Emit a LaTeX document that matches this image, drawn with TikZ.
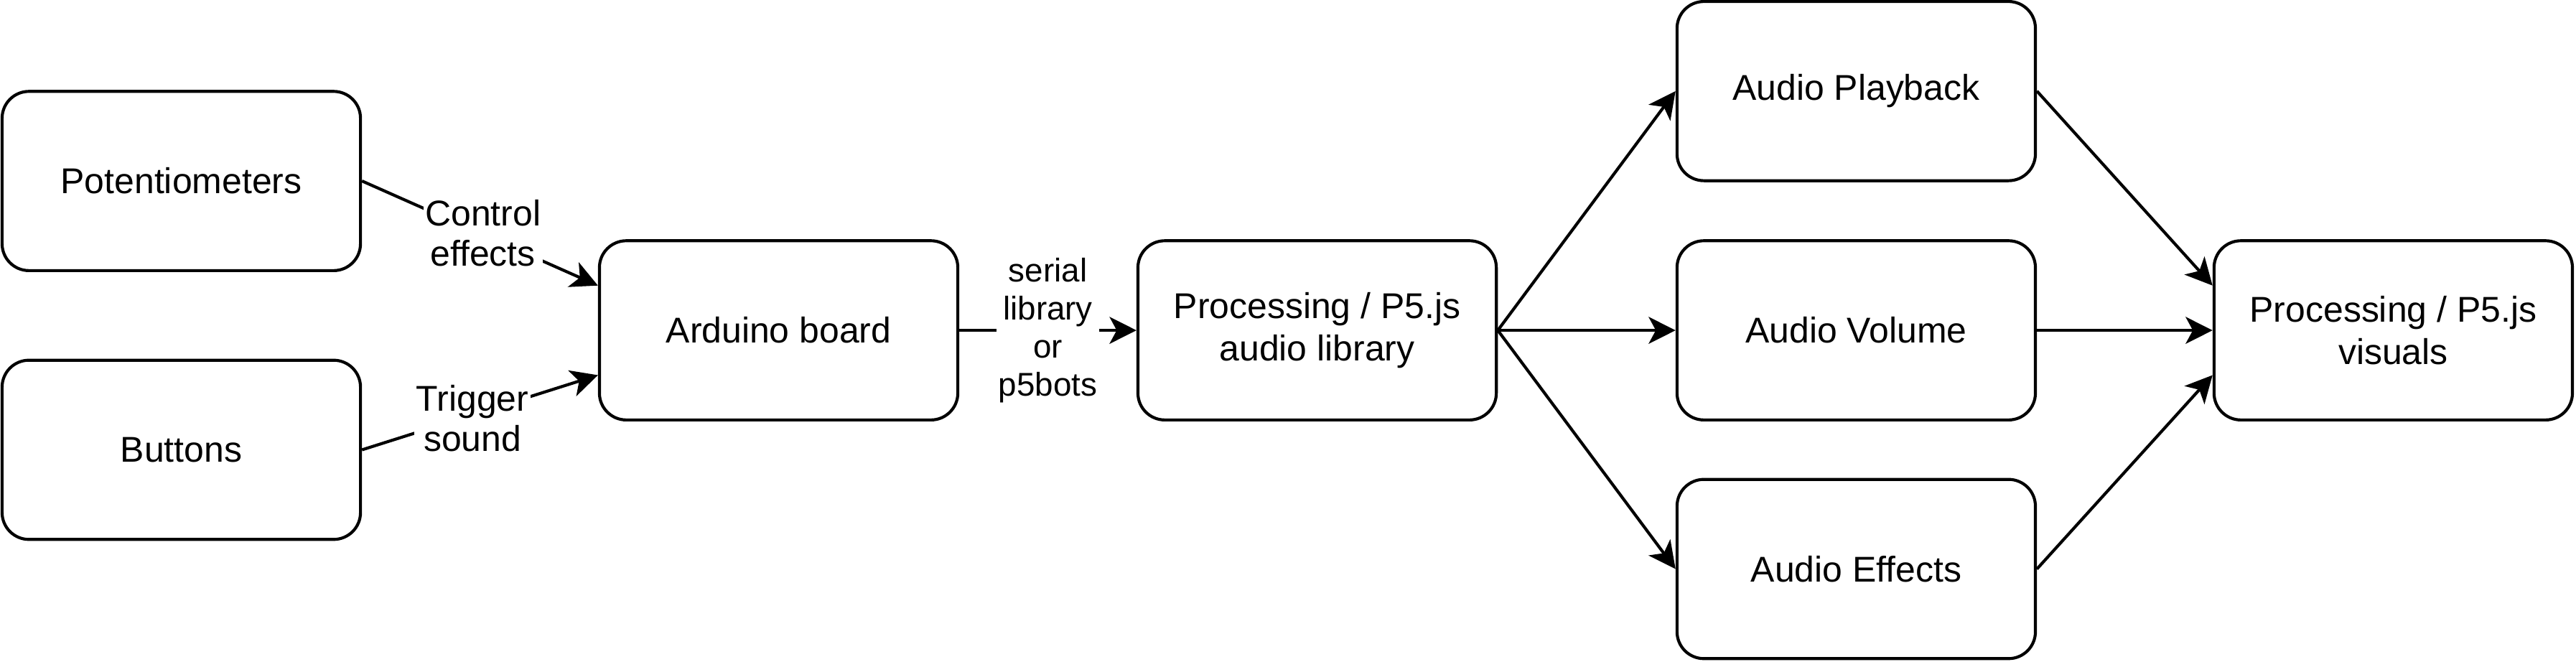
\documentclass[tikz,border=0pt]{standalone}
\usepackage{fontspec}
\setmainfont{Liberation Sans}
\usetikzlibrary{arrows.meta}
\tikzset{
  box/.style={draw, line width=1pt, rounded corners=9pt, minimum width=120pt, minimum height=60pt,
    align=center, inner sep=0pt, font=\fontsize{12}{14.2}\selectfont},
  arr/.style={line width=1pt, -{Stealth[length=9pt,width=9pt,inset=2.4pt]}},
  lbl/.style={fill=white, inner xsep=0.6pt, inner ysep=0.6pt, align=center, font=\fontsize{12}{13.5}\selectfont},
  lblsmall/.style={lbl, font=\fontsize{11}{12.7}\selectfont}
}
\begin{document}
\begin{tikzpicture}[x=1pt,y=-1pt]
\useasboundingbox (0,0) rectangle (862.5,221.4);
\node[box] (pot) at (60.7,60.6) {Potentiometers};
\node[box] (btn) at (60.7,150.6) {Buttons};
\node[box] (ard) at (260.7,110.6) {Arduino board};
\node[box] (proc) at (441,110.6) {Processing / P5.js\\audio library};
\node[box] (play) at (621.5,30.5) {Audio Playback};
\node[box] (vol) at (621.5,110.6) {Audio Volume};
\node[box] (eff) at (621.5,190.5) {Audio Effects};
\node[box] (vis) at (801.3,110.6) {Processing / P5.js\\visuals};

\draw[arr] (pot.east) -- node[lbl,midway,xshift=1pt] {Control\\effects} ([yshift=15pt]ard.west);
\draw[arr] (btn.east) -- node[lbl,midway,xshift=-2.5pt,yshift=-2pt] {Trigger\\sound} ([yshift=-15pt]ard.west);
\draw[arr] (ard.east) -- node[lblsmall,midway] {serial\\library\\or\\p5bots} (proc.west);
\draw[arr] (proc.east) -- (play.west);
\draw[arr] (proc.east) -- (vol.west);
\draw[arr] (proc.east) -- (eff.west);
\draw[arr] (play.east) -- ([yshift=15pt]vis.west);
\draw[arr] (vol.east) -- (vis.west);
\draw[arr] (eff.east) -- ([yshift=-15pt]vis.west);
\end{tikzpicture}
\end{document}
